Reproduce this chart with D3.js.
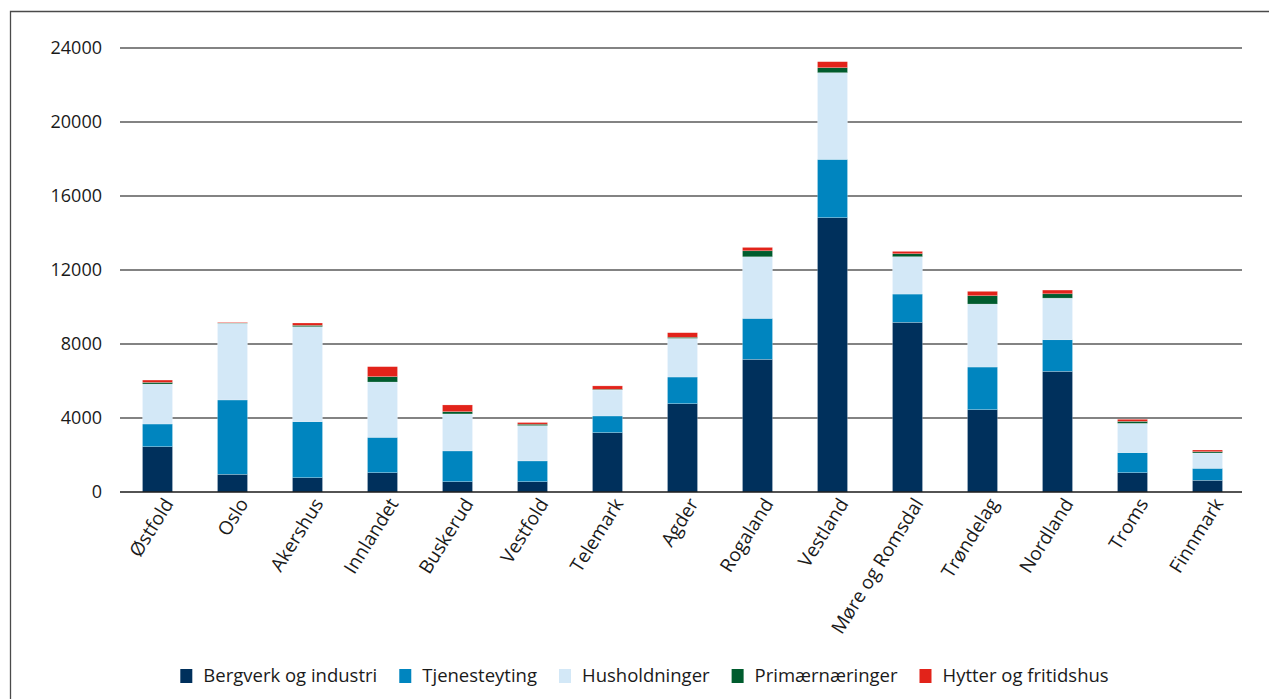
<!DOCTYPE html>
<html><head><meta charset="utf-8">
<script src="https://cdn.jsdelivr.net/npm/d3@7"></script>
<style>
html,body{margin:0;padding:0;background:#fff;}
svg{display:block;font-family:"Open Sans",sans-serif;}
</style></head>
<body>
<svg id="chart" width="1269" height="699"></svg>
<script>
const categories = ["Østfold","Oslo","Akershus","Innlandet","Buskerud","Vestfold","Telemark","Agder","Rogaland","Vestland","Møre og Romsdal","Trøndelag","Nordland","Troms","Finnmark"];
const seriesNames = ["Bergverk og industri","Tjenesteyting","Husholdninger","Primærnæringer","Hytter og fritidshus"];
const bergverk      = [2450, 955, 775, 1045, 560, 560, 3210, 4775, 7170, 14830, 9170, 4450, 6520, 1045, 630];
const tjenesteyting = [1225, 4020, 3025, 1910, 1660, 1120, 900, 1440, 2215, 3150, 1530, 2305, 1710, 1080, 650];
const husholdninger = [2160, 4145, 5135, 2990, 2000, 1910, 1405, 2090, 3330, 4685, 2020, 3405, 2250, 1585, 830];
const primaer       = [90, 15, 75, 290, 125, 75, 40, 60, 325, 270, 160, 450, 235, 110, 70];
const hytter        = [125, 30, 125, 540, 360, 90, 180, 245, 180, 325, 125, 235, 200, 110, 90];
const yTicks = [0, 4000, 8000, 12000, 16000, 20000, 24000];
const colors = ["#00305C", "#0085BF", "#D3E8F7", "#005C2E", "#E2231A"];

const svg = d3.select("#chart");
const m = {left:120, right:1242, top:48, bottom:492};

// frame
svg.append("path").attr("d","M10.5,699 V11.5 H1269").attr("fill","none").attr("stroke","#4a4a4a").attr("stroke-width",1.3);

const x = d3.scaleBand().domain(categories).range([m.left, m.right + 3]).paddingInner(0.6).paddingOuter(0.3);
const y = d3.scaleLinear().domain([0, 24000]).range([m.bottom, m.top]);

// gridlines
svg.append("g").selectAll("line").data(yTicks.slice(1)).join("line")
  .attr("x1", m.left).attr("x2", m.right)
  .attr("y1", d=>y(d)).attr("y2", d=>y(d))
  .attr("stroke","#5a5a5a").attr("stroke-width",1.3);

// y tick labels
const yAxis = d3.axisLeft(y).tickValues(yTicks).tickSize(0).tickPadding(0).tickFormat(d3.format("d"));
const ga = svg.append("g").attr("transform",`translate(102,0)`).call(yAxis);
ga.select(".domain").remove();
ga.selectAll("text").attr("font-size",18).attr("fill","#1a1a1a").attr("font-family","'Open Sans',sans-serif");

// stacked data
const rows = categories.map((c,i)=>({cat:c, [seriesNames[0]]:bergverk[i], [seriesNames[1]]:tjenesteyting[i], [seriesNames[2]]:husholdninger[i], [seriesNames[3]]:primaer[i], [seriesNames[4]]:hytter[i]}));
const stack = d3.stack().keys(seriesNames)(rows);

svg.append("g").selectAll("g").data(stack).join("g")
  .attr("fill",(d,i)=>colors[i])
  .selectAll("rect").data(d=>d).join("rect")
  .attr("x", d=>x(d.data.cat))
  .attr("width", x.bandwidth())
  .attr("y", d=>y(d[1]))
  .attr("height", d=>y(d[0]) - y(d[1]))
  .attr("stroke","rgba(255,255,255,0.35)").attr("stroke-width",0.6);

// baseline
svg.append("line").attr("x1",m.left).attr("x2",m.right).attr("y1",y(0)).attr("y2",y(0))
  .attr("stroke","#1a1a1a").attr("stroke-width",1.5);

// x labels
const xAxis = d3.axisBottom(x).tickSize(0).tickPadding(0);
const gx = svg.append("g").attr("transform",`translate(0,${m.bottom})`).call(xAxis);
gx.select(".domain").remove();
gx.selectAll("text")
  .attr("font-size",19).attr("fill","#1a1a1a").attr("font-family","'Open Sans',sans-serif")
  .attr("text-anchor","end")
  .attr("transform","translate(11,8) rotate(-58)")
  .attr("dy","0.35em").attr("y",0).attr("x",0);

// legend
const lg = svg.append("g");
let cx = 0;
seriesNames.forEach((n,i)=>{
  const g = lg.append("g");
  g.append("rect").attr("x",0).attr("y",-7).attr("width",12).attr("height",14).attr("fill",colors[i]);
  const t = g.append("text").attr("x",23).attr("y",0).attr("dy","0.35em").attr("font-size",18.5).attr("fill","#1a1a1a").text(n);
  const w = t.node().getComputedTextLength();
  g.attr("transform",`translate(${cx},0)`);
  cx += 23 + w + 22;
});
const total = cx - 22;
lg.attr("transform",`translate(${644.5 - total/2},676)`);
</script>
</body></html>
